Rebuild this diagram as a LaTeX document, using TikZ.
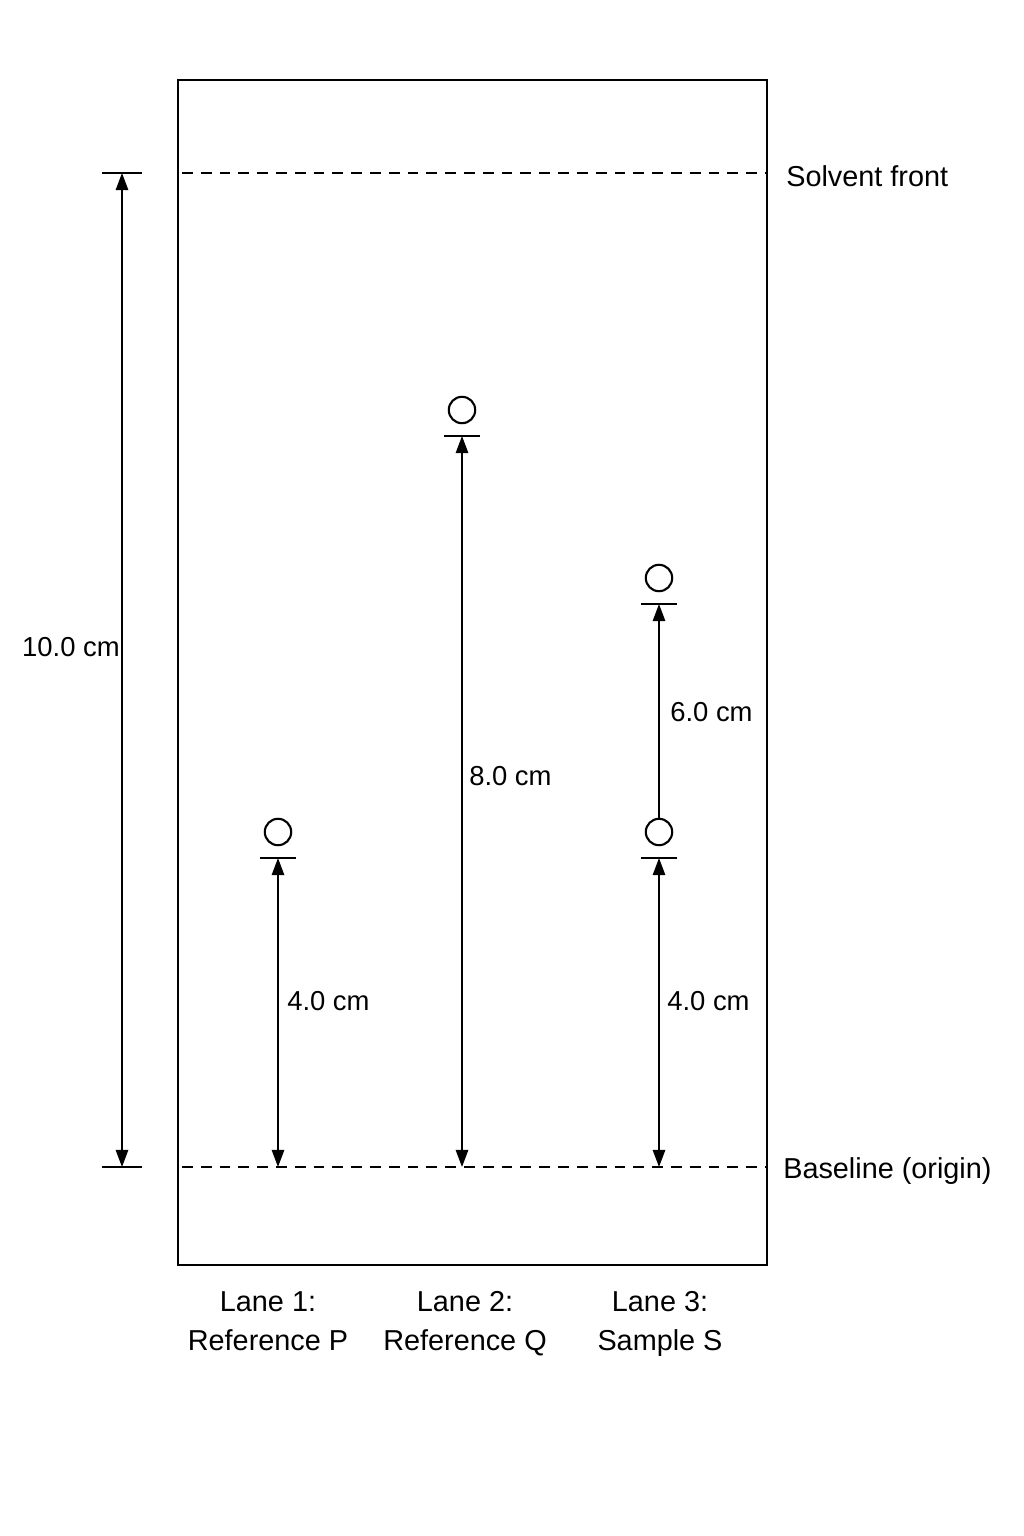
\documentclass[tikz,border=0pt]{standalone}
\usepackage{fontspec}
\setmainfont{Liberation Sans}
\usetikzlibrary{arrows.meta, positioning}

\tikzset{
  spot/.style={circle, draw, line width=1.5pt, minimum size=0.66cm, inner sep=0pt},
  dimline/.style={line width=1.4pt, {Triangle[length=0.43cm,width=0.31cm]}-{Triangle[length=0.43cm,width=0.31cm]}},
  upline/.style={line width=1.4pt, -{Triangle[length=0.43cm,width=0.31cm]}},
  tickline/.style={line width=1.4pt},
  frontline/.style={line width=1.4pt, dash pattern=on 0.27cm off 0.2cm},
  dimlabel/.style={inner sep=0pt, font=\fontsize{19.5}{23}\selectfont},
  sidelabel/.style={inner sep=0pt, anchor=west, font=\fontsize{20.5}{25}\selectfont},
  lanelabel/.style={inner sep=0pt, align=center, anchor=base, font=\fontsize{20.5}{27.7}\selectfont}
}

\begin{document}
\begin{tikzpicture}[x=0.025cm, y=-0.025cm]
  \useasboundingbox (0,0) rectangle (1024,1536);

  % plate
  \draw[line width=2.1pt] (178,80) rectangle (767,1265);

  % solvent front and baseline
  \coordinate (sfl) at (182,173);
  \coordinate (sfr) at (767,173);
  \coordinate (bll) at (182,1167);
  \coordinate (blr) at (767,1167);
  \draw[frontline] (sfl) -- (sfr);
  \draw[frontline] (bll) -- (blr);
  \node[sidelabel] (front) at (786,176) {Solvent front};
  \node[sidelabel] (base) at (783,1171) {Baseline (origin)};

  % total distance
  \coordinate (dtop) at (122,173);
  \coordinate (dbot) at (122,1167);
  \draw[tickline] ([xshift=-0.5cm]dtop) -- ([xshift=0.5cm]dtop);
  \draw[tickline] ([xshift=-0.5cm]dbot) -- ([xshift=0.5cm]dbot);
  \draw[dimline] (dtop) -- (dbot);
  \node[dimlabel] (dtot) at (71,647) {10.0 cm};

  % lane 1
  \node[spot] (p1) at (278,832) {};
  \coordinate (t1) at (278,858);
  \coordinate (b1) at (278,1167);
  \draw[tickline] ([xshift=-0.44cm]t1) -- ([xshift=0.44cm]t1);
  \draw[dimline] (t1) -- (b1);
  \node[dimlabel, anchor=west] (d1) at (287,1001) {4.0 cm};

  % lane 2
  \node[spot] (q1) at (462,410) {};
  \coordinate (t2) at (462,436);
  \coordinate (b2) at (462,1167);
  \draw[tickline] ([xshift=-0.44cm]t2) -- ([xshift=0.44cm]t2);
  \draw[dimline] (t2) -- (b2);
  \node[dimlabel, anchor=west] (d2) at (469,776) {8.0 cm};

  % lane 3
  \node[spot] (s1) at (659,832) {};
  \node[spot] (s2) at (659,578) {};
  \coordinate (t3) at (659,858);
  \coordinate (t4) at (659,604);
  \coordinate (b3) at (659,1167);
  \draw[tickline] ([xshift=-0.44cm]t3) -- ([xshift=0.44cm]t3);
  \draw[tickline] ([xshift=-0.44cm]t4) -- ([xshift=0.44cm]t4);
  \draw[dimline] (t3) -- (b3);
  \draw[upline] (s1.north) -- (t4);
  \node[dimlabel, anchor=west] (d3) at (667,1001) {4.0 cm};
  \node[dimlabel, anchor=west] (d4) at (670,712) {6.0 cm};

  % lane names
  \node[lanelabel] (lane1) at (268,1350) {Lane 1:\\Reference P};
  \node[lanelabel] (lane2) at (465,1350) {Lane 2:\\Reference Q};
  \node[lanelabel] (lane3) at (660,1350) {Lane 3:\\Sample S};
\end{tikzpicture}
\end{document}
